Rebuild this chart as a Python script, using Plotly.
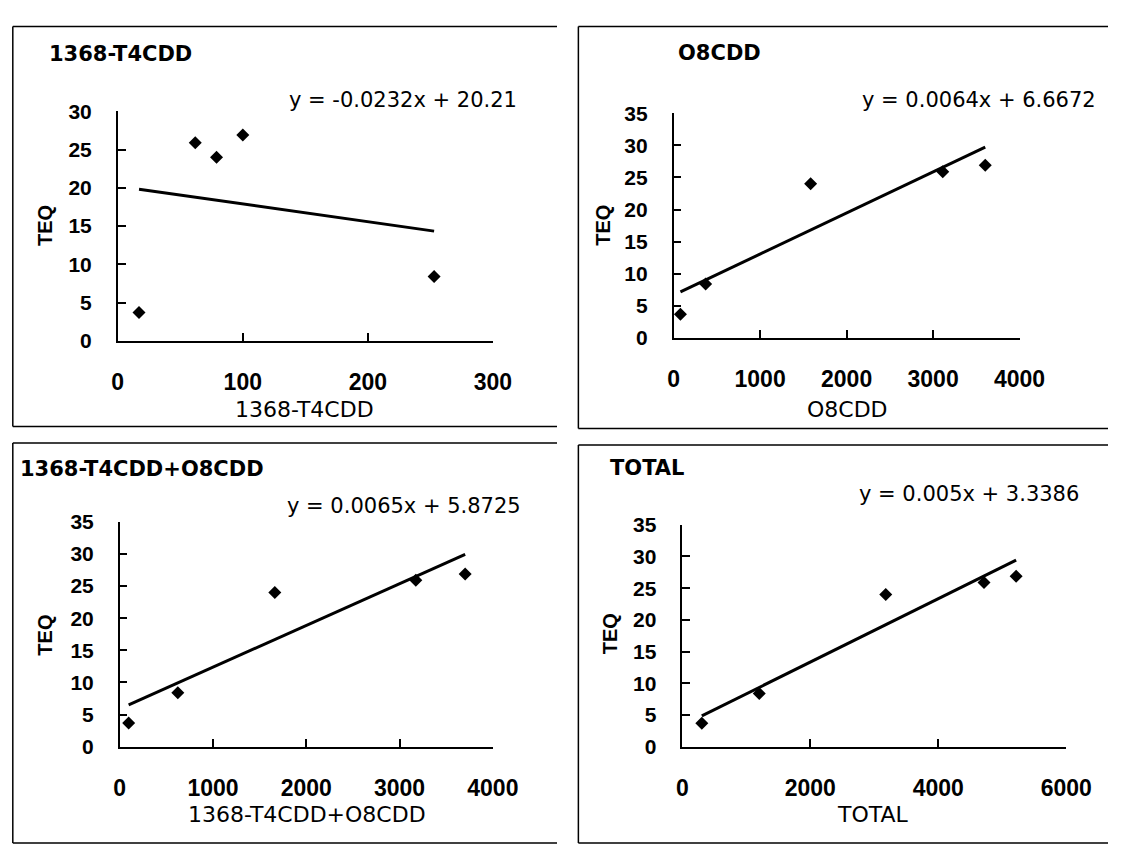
import plotly.graph_objects as go

# ---- data ----
TEQ = [3.7, 8.4, 24.0, 25.9, 26.9]
T4CDD = [17, 253, 79, 62, 100]
O8CDD = [79, 370, 1584, 3112, 3603]
T4_PLUS_O8 = [96, 623, 1663, 3174, 3703]
TOTAL = [304, 1202, 3179, 4715, 5217]

panel_titles = ["1368-T4CDD", "O8CDD", "1368-T4CDD+O8CDD", "TOTAL"]
x_titles = ["1368-T4CDD", "O8CDD", "1368-T4CDD+O8CDD", "TOTAL"]
y_title = "TEQ"
slopes = [-0.0232, 0.0064, 0.0065, 0.005]
intercepts = [20.21, 6.6672, 5.8725, 3.3386]
equations = ["y = -0.0232x + 20.21", "y = 0.0064x + 6.6672",
             "y = 0.0065x + 5.8725", "y = 0.005x + 3.3386"]
x_ticks = [[0, 100, 200, 300], [0, 1000, 2000, 3000, 4000],
           [0, 1000, 2000, 3000, 4000], [0, 2000, 4000, 6000]]
y_ticks = [[0, 5, 10, 15, 20, 25, 30], [0, 5, 10, 15, 20, 25, 30, 35],
           [0, 5, 10, 15, 20, 25, 30, 35], [0, 5, 10, 15, 20, 25, 30, 35]]
x_series = [T4CDD, O8CDD, T4_PLUS_O8, TOTAL]

# ---- layout geometry (pixels) ----
W, H = 1134, 854
def px(v): return v / W
def py(v): return 1 - v / H

# plot areas: (x_left, x_right, y_bottom, y_top) in px
areas = [(115, 501, 338, 102), (687, 1043, 335, 104),
         (117, 501, 755, 524), (696, 1091, 755, 527)]
title_pos = [(42, 43), (689, 42), (12, 470), (619, 469)]
eq_pos = [(528, 90), (1124, 90), (532, 508), (1106, 495)]
xt_pos = [(307, 408), (866, 409), (310, 825), (892, 825)]
yt_pos = [(40, 219), (614, 219), (40, 640), (621, 639)]

fig = go.Figure()
layout = dict(width=W, height=H, margin=dict(l=0, r=0, t=0, b=0),
              paper_bgcolor="white", plot_bgcolor="white", showlegend=False)
annotations = []
shapes = []

for i in range(4):
    n = "" if i == 0 else str(i + 1)
    xs = x_series[i]
    fig.add_trace(go.Scatter(x=xs, y=TEQ, mode="markers",
                             marker=dict(symbol="diamond", size=10, color="black"),
                             xaxis="x" + n, yaxis="y" + n))
    xmin, xmax = min(xs), max(xs)
    fig.add_trace(go.Scatter(x=[xmin, xmax],
                             y=[slopes[i] * xmin + intercepts[i], slopes[i] * xmax + intercepts[i]],
                             mode="lines", line=dict(color="black", width=3),
                             xaxis="x" + n, yaxis="y" + n))
    xl, xr, yb, yt = areas[i]
    layout["xaxis" + n] = dict(domain=[px(xl), px(xr)], range=[x_ticks[i][0], x_ticks[i][-1]],
                               tickvals=x_ticks[i], ticks="inside", ticklen=8, tickwidth=1.5,
                               tickcolor="black", showline=True, linecolor="black", linewidth=1.5,
                               showgrid=False, zeroline=False, anchor="y" + n,
                               tickfont=dict(family="Liberation Sans", size=23, color="black",
                                             weight="bold"),
                               ticklabelstandoff=20)
    layout["yaxis" + n] = dict(domain=[py(yb), py(yt)], range=[y_ticks[i][0], y_ticks[i][-1]],
                               tickvals=y_ticks[i], ticks="inside", ticklen=8, tickwidth=1.5,
                               tickcolor="black", showline=True, linecolor="black", linewidth=1.5,
                               showgrid=False, zeroline=False, anchor="x" + n,
                               tickfont=dict(family="Liberation Sans", size=21, color="black",
                                             weight="bold"),
                               ticklabelstandoff=20)
    annotations.append(dict(text=panel_titles[i], x=px(title_pos[i][0]), y=py(title_pos[i][1]),
                            xref="paper", yref="paper", xanchor="left", yanchor="middle",
                            showarrow=False,
                            font=dict(family="DejaVu Sans", size=21, color="black", weight="bold")))
    annotations.append(dict(text=equations[i], x=px(eq_pos[i][0]), y=py(eq_pos[i][1]),
                            xref="paper", yref="paper", xanchor="right", yanchor="middle",
                            showarrow=False,
                            font=dict(family="DejaVu Sans", size=21, color="black")))
    annotations.append(dict(text=x_titles[i], x=px(xt_pos[i][0]), y=py(xt_pos[i][1]),
                            xref="paper", yref="paper", xanchor="center", yanchor="middle",
                            showarrow=False,
                            font=dict(family="DejaVu Sans", size=22, color="black")))
    annotations.append(dict(text=y_title, x=px(yt_pos[i][0]), y=py(yt_pos[i][1]), textangle=-90,
                            xref="paper", yref="paper", xanchor="center", yanchor="middle",
                            showarrow=False,
                            font=dict(family="Liberation Sans", size=20, color="black", weight="bold")))

# panel frames (top / left / bottom edges)
frames = [(7, 567, 15, 426), (589, 1134, 15, 428), (7, 567, 443, 854), (589, 1134, 445, 854)]
for (x0, x1, y0, y1) in frames:
    for (a, b, c, d) in [(x0, y0, x1, y0), (x0, y0, x0, y1), (x0, y1, x1, y1)]:
        shapes.append(dict(type="line", xref="paper", yref="paper",
                           x0=px(a), y0=py(b), x1=px(c), y1=py(d),
                           line=dict(color="black", width=1.5)))

layout["annotations"] = annotations
layout["shapes"] = shapes
fig.update_layout(**layout)
fig.write_html("out.html")
